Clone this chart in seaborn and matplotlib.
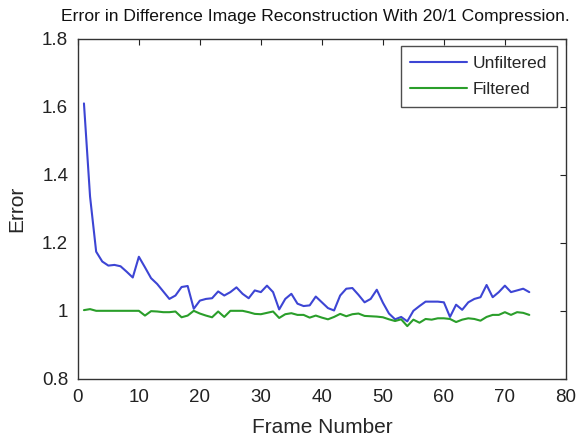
import numpy as np
import pandas as pd
import matplotlib
matplotlib.use("Agg")
import matplotlib.pyplot as plt
import seaborn as sns

# Reconstruction error per frame
unfiltered = [1.61, 1.336, 1.174, 1.145, 1.133, 1.135, 1.131, 1.115, 1.098, 1.159,
              1.128, 1.096, 1.079, 1.057, 1.035, 1.045, 1.070, 1.073, 1.006, 1.030,
              1.035, 1.037, 1.057, 1.045, 1.055, 1.069, 1.050, 1.037, 1.060, 1.055,
              1.074, 1.055, 1.004, 1.035, 1.050, 1.021, 1.014, 1.016, 1.042, 1.025,
              1.008, 1.001, 1.045, 1.065, 1.067, 1.047, 1.025, 1.035, 1.062, 1.024,
              0.992, 0.975, 0.982, 0.969, 1.000, 1.014, 1.027, 1.027, 1.027, 1.025,
              0.982, 1.018, 1.003, 1.025, 1.035, 1.040, 1.076, 1.040, 1.055, 1.074,
              1.055, 1.060, 1.065, 1.055]
filtered = [1.002, 1.005, 1.000, 1.000, 1.000, 1.000, 1.000, 1.000, 1.000, 1.000,
            0.986, 0.999, 0.998, 0.996, 0.996, 0.998, 0.981, 0.986, 1.000, 0.992,
            0.986, 0.981, 0.998, 0.982, 1.000, 1.000, 1.000, 0.996, 0.991, 0.990,
            0.994, 0.998, 0.979, 0.990, 0.993, 0.988, 0.988, 0.980, 0.986, 0.980,
            0.975, 0.982, 0.991, 0.984, 0.990, 0.992, 0.985, 0.984, 0.983, 0.981,
            0.975, 0.970, 0.975, 0.955, 0.974, 0.965, 0.976, 0.974, 0.978, 0.978,
            0.976, 0.967, 0.974, 0.978, 0.976, 0.971, 0.982, 0.988, 0.988, 0.996,
            0.988, 0.996, 0.994, 0.988]
series_names = ["Unfiltered", "Filtered"]
x_ticks = [0, 10, 20, 30, 40, 50, 60, 70, 80]
y_ticks = [0.8, 1.0, 1.2, 1.4, 1.6, 1.8]
y_tick_labels = ["0.8", "1", "1.2", "1.4", "1.6", "1.8"]

frames = np.arange(1, len(unfiltered) + 1)
df = pd.DataFrame({
    "Frame": np.concatenate([frames, frames]),
    "Error": unfiltered + filtered,
    "Series": [series_names[0]] * len(unfiltered) + [series_names[1]] * len(filtered),
})

sns.set_style("white")
plt.rcParams["font.family"] = ["Liberation Sans", "DejaVu Sans"]

fig = plt.figure(figsize=(5.81, 4.41), dpi=100)
ax = fig.add_axes([0.134, 0.141, 0.840, 0.771])

sns.lineplot(data=df, x="Frame", y="Error", hue="Series", hue_order=series_names,
             palette=["#3d45d4", "#2a9e2a"], linewidth=1.5, ax=ax, legend=True)

ax.set_xlim(0, 80)
ax.set_ylim(0.8, 1.8)
ax.set_xticks(x_ticks)
ax.set_yticks(y_ticks)
ax.set_yticklabels(y_tick_labels)
ax.tick_params(direction="in", length=4, width=0.8, top=True, right=True,
               labelsize=13.5, colors="#222222", pad=7)
for s in ax.spines.values():
    s.set_visible(True)
    s.set_color("#333333")
    s.set_linewidth(1.0)

ax.set_xlabel("Frame Number", fontsize=15, labelpad=9)
ax.set_ylabel("Error", fontsize=15, labelpad=11)
fig.text(0.542, 0.962, "Error in Difference Image Reconstruction With 20/1 Compression.",
         fontsize=12.6, ha="center", va="center", color="#111111")

leg = ax.legend(loc="upper right", fontsize=12.5, frameon=True, fancybox=False,
                edgecolor="#222222", handlelength=3.3, handletextpad=0.3,
                borderpad=0.55, labelspacing=0.65, borderaxespad=0,
                bbox_to_anchor=(0.981, 0.979))
leg.get_frame().set_linewidth(1.0)
leg.set_title(None)

fig.savefig("out.png", dpi=100)
